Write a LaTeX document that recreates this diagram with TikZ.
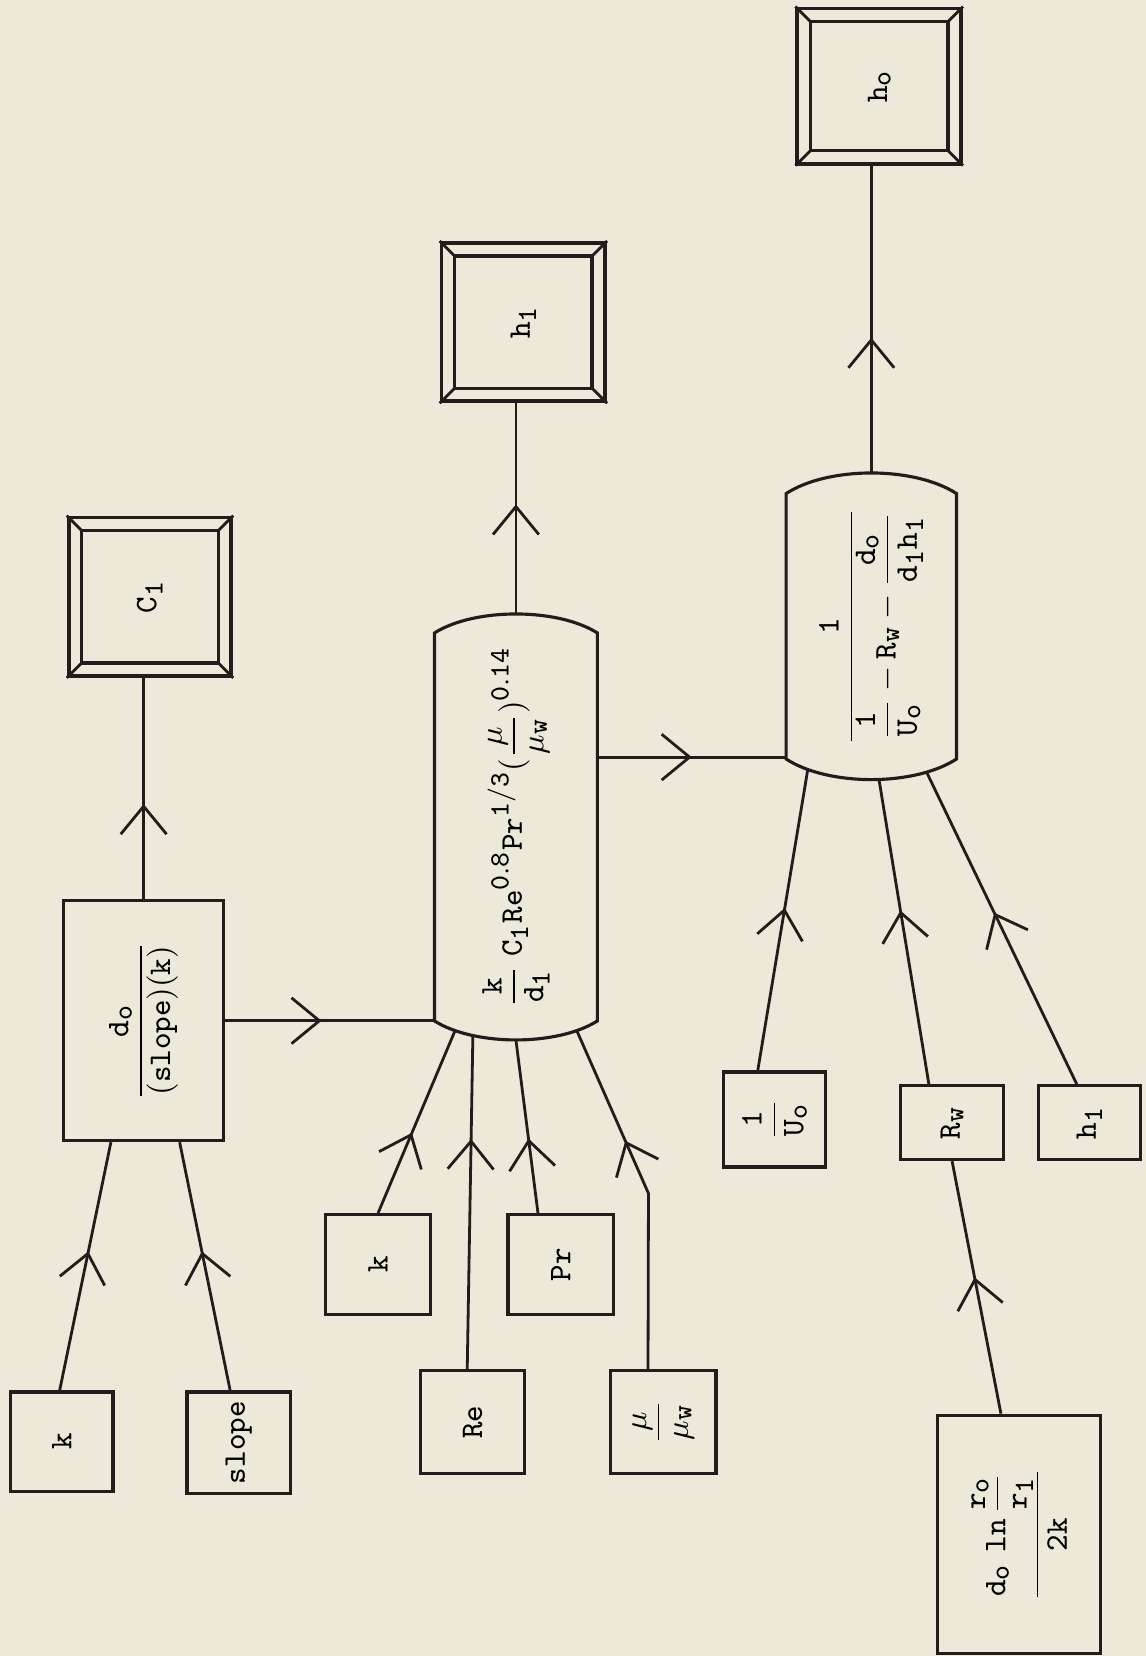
\documentclass[tikz,border=0pt]{standalone}
\usepackage{amsmath}
\usepackage{graphicx}
\usetikzlibrary{arrows.meta,decorations.markings,calc}
\DeclareMathSizes{9.5}{9.5}{8}{6.5}
\newlength\pxu \setlength\pxu{0.0106cm}
\definecolor{paper}{RGB}{236,233,218}
\definecolor{ink}{RGB}{35,28,28}
\newcommand\T[1]{\mathtt{#1}}
\tikzset{
 flow/.style={postaction={decorate},decoration={markings,mark=at position #1 with {\arrow{Straight Barb[length=2.8mm,width=4.6mm,line width=0.8pt]}}}},
 flow/.default=0.5,
 box/.style={draw=ink, line width=0.9pt, inner sep=0pt, rectangle, font=\fontsize{9.5}{11}\selectfont},
 formula/.style={inner sep=0pt, rectangle, font=\fontsize{9.5}{11}\selectfont},
 outl/.style={draw=ink, line width=0.9pt},
 conn/.style={draw=ink, line width=0.8pt},
 fbox/.style={box, line width=1.1pt},
}
\newcommand\frameinner[1]{%
 \draw[ink,line width=1pt] ([shift={(0.15cm,-0.15cm)}]#1.north west) rectangle ([shift={(-0.15cm,0.15cm)}]#1.south east);
 \draw[ink,line width=0.8pt] (#1.north west) -- ([shift={(0.15cm,-0.15cm)}]#1.north west);
 \draw[ink,line width=0.8pt] (#1.north east) -- ([shift={(-0.15cm,-0.15cm)}]#1.north east);
 \draw[ink,line width=0.8pt] (#1.south west) -- ([shift={(0.15cm,0.15cm)}]#1.south west);
 \draw[ink,line width=0.8pt] (#1.south east) -- ([shift={(-0.15cm,0.15cm)}]#1.south east);
}
\begin{document}
\begin{tikzpicture}[x=\pxu,y=-\pxu]
\fill[paper] (0,0) rectangle (1085,1568);
\useasboundingbox (0,0) rectangle (1085,1568);

% result boxes
\node[fbox, minimum width=155\pxu, minimum height=147\pxu] (ho) at (832.5,81.5) {\rotatebox{90}{$\T{h}_\T{o}$}};
\frameinner{ho}
\node[fbox, minimum width=155\pxu, minimum height=150\pxu] (h1top) at (495.5,305) {\rotatebox{90}{$\T{h}_\T{1}$}};
\frameinner{h1top}
\node[fbox, minimum width=154\pxu, minimum height=150\pxu] (c1) at (142,565) {\rotatebox{90}{$\T{C}_\T{1}$}};
\frameinner{c1}

% left column
\node[box, minimum width=152\pxu, minimum height=227\pxu] (box1) at (136,966.5) {\rotatebox{90}{$\dfrac{\T{d}_\T{o}}{\T{(slope)(k)}}$}};
\node[box, minimum width=97\pxu, minimum height=94\pxu] (kL) at (58.5,1365) {\rotatebox{90}{$\T{k}$}};
\node[box, minimum width=98\pxu, minimum height=96\pxu] (slope) at (226,1366) {\rotatebox{90}{$\T{slope}$}};

% middle column
\node[formula, minimum width=153\pxu, minimum height=366\pxu] (mid) at (488.5,783) {\rotatebox{90}{$\dfrac{\T{k}}{\T{d}_\T{1}}\;\T{C}_\T{1}\T{Re}^{\T{0.8}}\T{Pr}^{\T{1/3}}(\dfrac{\mu}{\mu_\T{w}})^{\T{0.14}}$}};
\draw[outl] (mid.north west) -- (mid.south west)
  .. controls +(38,24) and +(-38,24) .. (mid.south east)
  coordinate[pos=0.15] (mb1) coordinate[pos=0.26] (mb2) coordinate[pos=0.5] (mb3) coordinate[pos=0.85] (mb4)
  -- (mid.north east) coordinate[pos=0.68] (mR)
  .. controls +(-38,-24) and +(38,-24) .. (mid.north west) coordinate[pos=0.5] (mT)
  -- cycle;
\node[box, minimum width=100\pxu, minimum height=95\pxu] (kM) at (358,1197.5) {\rotatebox{90}{$\T{k}$}};
\node[box, minimum width=100\pxu, minimum height=95\pxu] (Pr) at (531,1197.5) {\rotatebox{90}{$\T{Pr}$}};
\node[box, minimum width=99\pxu, minimum height=97\pxu] (Re) at (447.5,1346.5) {\rotatebox{90}{$\T{Re}$}};
\node[box, minimum width=100\pxu, minimum height=97\pxu] (mu) at (628,1346.5) {\rotatebox{90}{$\dfrac{\mu}{\mu_\T{w}}$}};

% right column
\node[formula, minimum width=160\pxu, minimum height=250\pxu] (rn) at (825,593) {\rotatebox{90}{$\dfrac{\T{1}}{\dfrac{\T{1}}{\T{U}_\T{o}} - \T{R}_\T{w} - \dfrac{\T{d}_\T{o}}{\T{d}_\T{1}\T{h}_\T{1}}}$}};
\draw[outl] (rn.north west) -- (rn.south west)
  .. controls +(40,26) and +(-40,26) .. (rn.south east)
  coordinate[pos=0.15] (rb1) coordinate[pos=0.54] (rb2) coordinate[pos=0.8] (rb3)
  -- (rn.north east)
  .. controls +(-40,-26) and +(40,-26) .. (rn.north west) coordinate[pos=0.5] (rT)
  -- cycle;
\node[box, minimum width=97\pxu, minimum height=90\pxu] (Uo) at (733.5,1060) {\rotatebox{90}{$\dfrac{\T{1}}{\T{U}_\T{o}}$}};
\node[box, minimum width=97\pxu, minimum height=70\pxu] (Rw) at (901.5,1063) {\rotatebox{90}{$\T{R}_\T{w}$}};
\node[box, minimum width=97\pxu, minimum height=70\pxu] (h1s) at (1031.5,1063) {\rotatebox{90}{$\T{h}_\T{1}$}};
\node[box, minimum width=154\pxu, minimum height=226\pxu] (dln) at (965,1453) {\rotatebox{90}{$\dfrac{\T{d}_\T{o}\ \T{ln}\,\dfrac{\T{r}_\T{o}}{\T{r}_\T{1}}}{\T{2k}}$}};

% connectors left
\draw[conn,flow=0.56] ($(kL.north west)!0.48!(kL.north east)$) -- ($(box1.south west)!0.3!(box1.south east)$);
\draw[conn,flow=0.56] ($(slope.north west)!0.42!(slope.north east)$) -- ($(box1.south west)!0.72!(box1.south east)$);
\draw[conn,flow=0.43] (box1.north) -- (box1.north |- c1.south);
\draw[conn,flow=0.46] (box1.east) -- (box1.east -| mid.west);

% connectors middle
\draw[conn,flow=0.44] (kM.north) -- (mb1);
\draw[conn,flow=0.69] ($(Re.north west)!0.45!(Re.north east)$) -- (mb2);
\draw[conn,flow=0.43] ($(Pr.north west)!0.29!(Pr.north east)$) -- (mb3);
\coordinate (mubend) at (614,1130);
\draw[conn,flow=0.66] ($(mu.north west)!0.36!(mu.north east)$) -- (mubend) -- (mb4);
\draw[conn,flow=0.52] (mT) -- (mT |- h1top.south);
\draw[conn,flow=0.5] (mR) -- (mR -| rn.west);

% connectors right
\draw[conn,flow=0.54] ($(Uo.north west)!0.34!(Uo.north east)$) -- (rb1);
\draw[conn,flow=0.57] ($(Rw.north west)!0.28!(Rw.north east)$) -- (rb2);
\draw[conn,flow=0.55] ($(h1s.north west)!0.38!(h1s.north east)$) -- (rb3);
\draw[conn,flow=0.44] (rT) -- (rT |- ho.south);
\draw[conn,flow=0.54] ($(dln.north west)!0.39!(dln.north east)$) -- (Rw.south);
\end{tikzpicture}
\end{document}
